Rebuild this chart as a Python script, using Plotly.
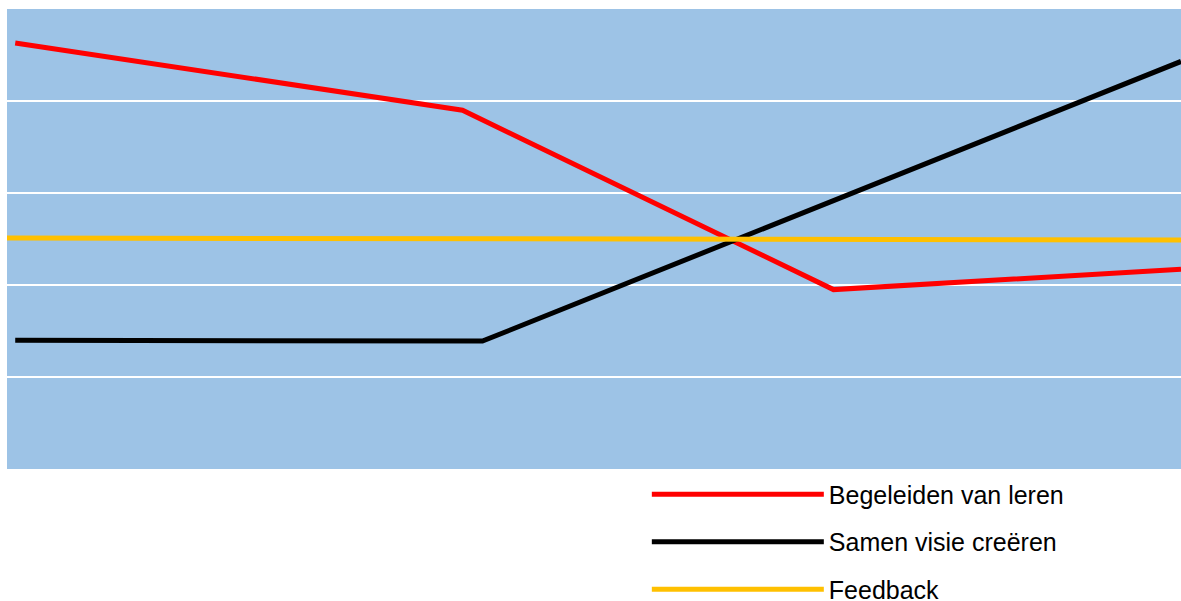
import plotly.graph_objects as go

# Data (x in % of the horizontal span, y in band units 0-5)
red_x = [0.7, 38.8, 70.4, 100.0]
red_y = [4.63, 3.90, 1.95, 2.17]
black_x = [0.7, 40.5, 100.0]
black_y = [1.40, 1.39, 4.43]
orange_x = [0.0, 100.0]
orange_y = [2.51, 2.49]

names = ["Begeleiden van leren", "Samen visie creëren", "Feedback"]
colors = ["#FF0000", "#000000", "#FFC000"]

fig = go.Figure()
for i, (xs, ys) in enumerate([(red_x, red_y), (black_x, black_y), (orange_x, orange_y)]):
    fig.add_trace(go.Scatter(
        x=xs, y=ys, mode="lines", name=names[i], legendgroup=f"g{i}",
        line=dict(color=colors[i], width=5),
    ))

fig.update_layout(
    width=1181, height=601,
    margin=dict(l=7, r=0, t=9, b=132, autoexpand=False),
    paper_bgcolor="white",
    plot_bgcolor="#9DC3E6",
    font=dict(family="Liberation Sans, Arial, sans-serif", size=25, color="black"),
    showlegend=True,
    legend=dict(
        x=0.545, xanchor="left",
        yref="container", y=0.2155, yanchor="top",
        itemwidth=172, tracegroupgap=12, traceorder="grouped",
        bgcolor="rgba(0,0,0,0)", borderwidth=0,
        font=dict(size=25),
        maxheight=400,
    ),
    xaxis=dict(range=[0, 100], showgrid=False, zeroline=False, showticklabels=False, ticks=""),
    yaxis=dict(range=[0, 5], tickvals=[1, 2, 3, 4], showgrid=True, gridcolor="white", gridwidth=2,
               zeroline=False, showticklabels=False, ticks=""),
)

fig.write_html("out.html")
